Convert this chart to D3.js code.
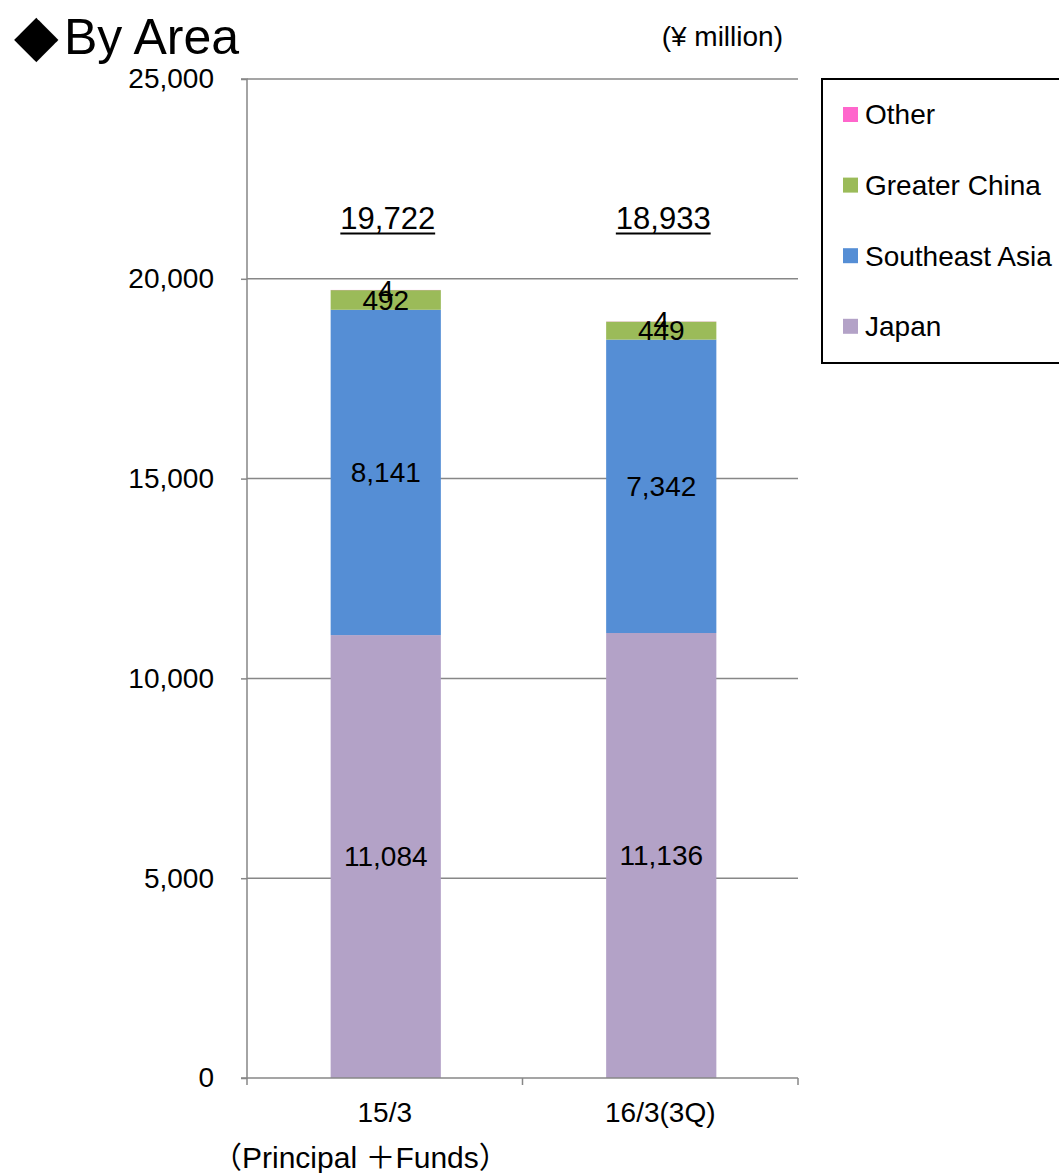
<!DOCTYPE html>
<html>
<head>
<meta charset="utf-8">
<script src="https://cdn.jsdelivr.net/npm/d3@7/dist/d3.min.js"></script>
<style>
  html, body { margin: 0; padding: 0; background: #fff; }
  svg { display: block; font-family: "Liberation Sans", Arial, sans-serif; }
</style>
</head>
<body>
<svg id="chart" width="1059" height="1173"></svg>
<script>
// Sales by area, ¥ million
const periods = ["15/3", "16/3(3Q)"];
const areas = ["Japan", "Southeast Asia", "Greater China", "Other"];
const japan = [11084, 11136];
const southeastAsia = [8141, 7342];
const greaterChina = [492, 449];
const other = [4, 4];
const totals = [19722, 18933];
const yTicks = [0, 5000, 10000, 15000, 20000, 25000];
const colors = ["#B3A2C7", "#558ED5", "#9BBB59", "#FF66CC"];

const seriesValues = [japan, southeastAsia, greaterChina, other];
const rows = periods.map((p, i) => {
  const r = { period: p };
  areas.forEach((a, k) => { r[a] = seriesValues[k][i]; });
  return r;
});

const svg = d3.select("#chart");
const plot = { left: 247, right: 798, top: 79, bottom: 1078 };

const x = d3.scaleBand().domain(periods).range([plot.left, plot.right])
  .paddingInner(0.6).paddingOuter(0.3);
const y = d3.scaleLinear().domain([0, 25000]).range([plot.bottom, plot.top]);
const fmt = d3.format(",");

// horizontal gridlines
svg.append("g")
  .selectAll("line")
  .data(yTicks.filter(t => t > 0))
  .join("line")
  .attr("x1", plot.left).attr("x2", plot.right)
  .attr("y1", d => y(d)).attr("y2", d => y(d))
  .attr("stroke", "#878787").attr("stroke-width", 1.5);

// stacked bars
const stack = d3.stack().keys(areas)(rows);
const layers = svg.append("g").selectAll("g")
  .data(stack)
  .join("g")
  .attr("fill", (d, i) => colors[i]);
layers.selectAll("rect")
  .data(d => d)
  .join("rect")
  .attr("x", d => x(d.data.period) + 1)
  .attr("width", x.bandwidth())
  .attr("y", d => y(d[1]))
  .attr("height", d => y(d[0]) - y(d[1]));

// y axis
const yAxis = d3.axisLeft(y).tickValues(yTicks).tickFormat(fmt).tickSize(6).tickPadding(27);
const gy = svg.append("g").attr("transform", `translate(${plot.left},0)`).call(yAxis);
gy.select(".domain").attr("stroke", "#878787").attr("stroke-width", 1.5).attr("d", `M-6,${plot.top}H0V${plot.bottom}H-6`);
gy.selectAll(".tick line").attr("stroke", "#878787").attr("stroke-width", 1.5);
gy.selectAll(".tick text").attr("font-size", 28).attr("fill", "#000")
  .attr("font-family", "Liberation Sans, Arial, sans-serif");

// x axis
const xAxis = d3.axisBottom(x).tickSize(0).tickPadding(24);
const gx = svg.append("g").attr("transform", `translate(0,${plot.bottom})`).call(xAxis);
gx.select(".domain").attr("stroke", "#878787").attr("stroke-width", 1.5).attr("d", `M${plot.left},0H${plot.right}`);
gx.selectAll(".tick text").attr("font-size", 28).attr("fill", "#000")
  .attr("font-family", "Liberation Sans, Arial, sans-serif");
// category boundary ticks
const bounds = [plot.left, plot.left + (plot.right - plot.left) / 2, plot.right];
svg.append("g").selectAll("line").data(bounds).join("line")
  .attr("x1", d => d).attr("x2", d => d)
  .attr("y1", plot.bottom).attr("y2", plot.bottom + 7)
  .attr("stroke", "#878787").attr("stroke-width", 1.5);

// segment value labels
layers.selectAll("text")
  .data(d => d)
  .join("text")
  .attr("x", d => x(d.data.period) + 1 + x.bandwidth() / 2)
  .attr("y", d => y((d[0] + d[1]) / 2))
  .attr("dy", "0.35em")
  .attr("text-anchor", "middle")
  .attr("font-size", 28)
  .attr("fill", "#000")
  .text(d => fmt(d[1] - d[0]));

// totals, underlined
const tot = svg.append("g").selectAll("g").data(periods).join("g");
tot.append("text")
  .attr("x", d => x(d) + 3 + x.bandwidth() / 2)
  .attr("y", 229)
  .attr("text-anchor", "middle")
  .attr("font-size", 31)
  .attr("fill", "#000")
  .text((d, i) => fmt(totals[i]));
tot.each(function () {
  const g = d3.select(this);
  const bb = g.select("text").node().getBBox();
  g.append("line")
    .attr("x1", bb.x).attr("x2", bb.x + bb.width)
    .attr("y1", 233.5).attr("y2", 233.5)
    .attr("stroke", "#000").attr("stroke-width", 2);
});

// title and unit
const title = svg.append("text").attr("fill", "#000");
title.append("tspan").attr("x", 14).attr("y", 55).attr("font-size", 58)
  .attr("font-family", "DejaVu Sans, sans-serif").text("◆");
title.append("tspan").attr("x", 64).attr("y", 54).attr("font-size", 50).text("By Area");
svg.append("text").attr("x", 783).attr("y", 46)
  .attr("text-anchor", "end").attr("font-size", 28).attr("fill", "#000")
  .text("(¥ million)");

// footnote under the axis
svg.append("text").attr("x", 212).attr("y", 1168)
  .attr("font-size", 30).attr("fill", "#000")
  .attr("font-family", "Liberation Sans, 'Noto Sans CJK JP', sans-serif")
  .text("（Principal ＋Funds）");

// legend (top to bottom: Other .. Japan)
const legend = svg.append("g");
legend.append("rect")
  .attr("x", 822).attr("y", 79).attr("width", 260).attr("height", 284)
  .attr("fill", "#fff").attr("stroke", "#000").attr("stroke-width", 2);
const legendItems = areas.slice().reverse();
const li = legend.selectAll("g.item").data(legendItems).join("g")
  .attr("class", "item")
  .attr("transform", (d, i) => `translate(843,${114.5 + i * 70.6})`);
li.append("rect").attr("x", 0).attr("y", -7.5).attr("width", 15).attr("height", 15)
  .attr("fill", d => colors[areas.indexOf(d)]);
li.append("text").attr("x", 22).attr("dy", "0.35em")
  .attr("font-size", 28).attr("fill", "#000")
  .text(d => d);
</script>
</body>
</html>
